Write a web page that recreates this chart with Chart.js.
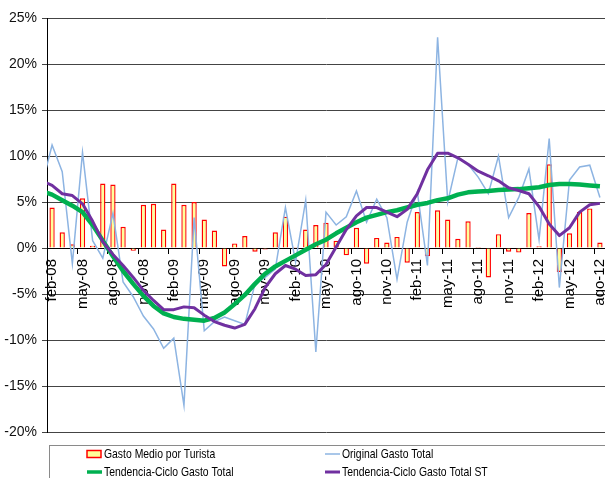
<!DOCTYPE html>
<html>
<head>
<meta charset="utf-8">
<script src="https://cdn.jsdelivr.net/npm/chart.js@4/dist/chart.umd.min.js"></script>
<style>
  html, body { margin: 0; padding: 0; background: #fff; }
  #wrap { width: 605px; height: 478px; }
</style>
</head>
<body>
<div id="wrap"><canvas id="chart" width="605" height="478"></canvas></div>
<script>
// monthly labels; ene-08 lies just left of the visible range (only its line segments show)
const months = [
  "ene-08","feb-08","mar-08","abr-08","may-08","jun-08","jul-08","ago-08","sep-08","oct-08","nov-08","dic-08",
  "ene-09","feb-09","mar-09","abr-09","may-09","jun-09","jul-09","ago-09","sep-09","oct-09","nov-09","dic-09",
  "ene-10","feb-10","mar-10","abr-10","may-10","jun-10","jul-10","ago-10","sep-10","oct-10","nov-10","dic-10",
  "ene-11","feb-11","mar-11","abr-11","may-11","jun-11","jul-11","ago-11","sep-11","oct-11","nov-11","dic-11",
  "ene-12","feb-12","mar-12","abr-12","may-12","jun-12","jul-12","ago-12"
];

const gastoMedio = [
  null,
  4.4, 1.7, 0.4, 5.4, 0.25, 7.0, 6.9, 2.3, -0.3, 4.7, 4.8,
  2.0, 7.0, 4.7, 5.0, 3.1, 1.9, -2.0, 0.5, 1.3, -0.4, -0.15, 1.7,
  3.4, 0.1, 2.0, 2.5, 2.75, 0.8, -0.8, 2.2, -1.7, 1.1, 0.6, 1.2,
  -1.6, 3.9, -0.9, 4.1, 3.1, 1.0, 2.9, 0.1, -3.2, 1.5, -0.4, -0.5,
  3.8, 0.2, 9.1, -2.6, 1.6, 3.9, 4.3, 0.6
];

const originalTotal = [
  6.8,
  11.2, 8.3, -1.7, 10.4, 0.8, -1.1, 3.8, -3.7, -5.3, -7.4, -8.8,
  -10.9, -9.8, -17.1, 3.3, -9.0, -8.0, -7.5, -7.9, -8.3, -3.9, -3.2, -2.3,
  4.4, -1.5, 5.2, -11.3, 3.9, 2.5, 3.4, 6.2, 2.8, 5.3, 3.3, -3.4,
  2.8, 6.1, -1.9, 22.9, 5.0, 9.8, 9.1, 7.7, 5.9, 10.0, 3.3, 5.5,
  8.6, 0.9, 11.9, -4.3, 7.4, 8.8, 9.0, 5.5
];

const tendencia = [
  6.2,
  5.8, 5.2, 4.6, 3.9, 2.5, 0.8, -0.9, -2.5, -3.9, -5.2, -6.3,
  -7.1, -7.5, -7.7, -7.8, -7.9, -7.6, -7.0, -6.1, -5.1, -3.9, -2.8, -2.0,
  -1.4, -0.8, -0.2, 0.4, 0.9, 1.6, 2.2, 2.8, 3.3, 3.6, 3.9, 4.1,
  4.4, 4.7, 4.9, 5.2, 5.4, 5.8, 6.05, 6.15, 6.2, 6.3, 6.35, 6.4,
  6.5, 6.6, 6.85, 6.95, 6.95, 6.9, 6.8, 6.7
];

const tendenciaST = [
  7.3,
  6.8, 5.9, 5.7, 4.8, 2.9, 0.7, -0.7, -1.9, -3.2, -4.6, -5.7,
  -6.7, -6.7, -6.4, -6.5, -7.3, -8.0, -8.4, -8.7, -8.3, -6.6, -4.3, -2.8,
  -1.9, -2.3, -3.0, -2.9, -1.8, 0.1, 2.0, 3.5, 4.4, 4.4, 3.9, 3.4,
  4.2, 5.9, 8.5, 10.3, 10.3, 9.8, 9.1, 8.35, 7.85, 7.3, 6.55, 6.25,
  5.9, 4.5, 2.6, 1.35, 2.2, 3.9, 4.7, 4.85
];

const yTicks = { min: -20, max: 25, step: 5 };

// legend drawn by hand: 2 columns x 2 rows inside a grey box
const legendBox = {
  id: "legendBox",
  afterDraw(chart) {
    const c = chart.ctx;
    const ds = chart.data.datasets;
    const slots = [
      { d: ds[3], x: 87, y: 454 },
      { d: ds[2], x: 325, y: 454 },
      { d: ds[1], x: 87, y: 472 },
      { d: ds[0], x: 325, y: 472 }
    ];
    c.save();
    c.strokeStyle = "#8a8a8a";
    c.lineWidth = 1;
    c.strokeRect(49.5, 445.5, 620, 40);
    c.font = "13px 'Liberation Sans', Arial, sans-serif";
    c.textBaseline = "middle";
    slots.forEach(s => {
      if (s.d.type === "line") {
        c.strokeStyle = s.d.borderColor;
        c.lineWidth = Math.min(s.d.borderWidth, 3.5);
        c.beginPath();
        c.moveTo(s.x, s.y);
        c.lineTo(s.x + 15, s.y);
        c.stroke();
      } else {
        c.fillStyle = s.d.backgroundColor;
        c.fillRect(s.x, s.y - 3.5, 14, 7);
        c.strokeStyle = s.d.borderColor;
        c.lineWidth = 1.5;
        c.strokeRect(s.x, s.y - 3.5, 14, 7);
      }
      c.save();
      c.translate(s.x + 17, s.y + 0.5);
      c.scale(0.8, 1);
      c.fillStyle = "#000";
      c.fillText(s.d.label, 0, 0);
      c.restore();
    });
    c.restore();
  }
};

new Chart(document.getElementById("chart"), {
  type: "bar",
  data: {
    labels: months,
    datasets: [
      {
        type: "line",
        label: "Tendencia-Ciclo Gasto Total ST",
        data: tendenciaST,
        borderColor: "#7030A0",
        borderWidth: 3,
        pointRadius: 0,
        tension: 0,
        borderJoinStyle: "round",
        order: 0
      },
      {
        type: "line",
        label: "Tendencia-Ciclo Gasto Total",
        data: tendencia,
        borderColor: "#00B050",
        borderWidth: 4.5,
        pointRadius: 0,
        tension: 0,
        borderJoinStyle: "round",
        order: 1
      },
      {
        type: "line",
        label: "Original Gasto Total",
        data: originalTotal,
        borderColor: "#8DB4E2",
        borderWidth: 1.5,
        pointRadius: 0,
        tension: 0,
        order: 2
      },
      {
        label: "Gasto Medio por Turista",
        data: gastoMedio,
        backgroundColor: "#FFFF99",
        borderColor: "#FF0000",
        borderWidth: 1.4,
        categoryPercentage: 1,
        barPercentage: 0.52,
        order: 3
      }
    ]
  },
  options: {
    responsive: false,
    animation: false,
    layout: { padding: { top: 18, bottom: 46, left: 0, right: 0 } },
    plugins: { legend: { display: false }, tooltip: { enabled: false } },
    scales: {
      x: {
        type: "category",
        min: "feb-08",
        offset: true,
        position: { y: 0 },
        afterFit(scale) {
          scale.height = 0;
          scale.paddingLeft = 0;
          scale.paddingRight = 0;
        },
        grid: {
          drawOnChartArea: false,
          offset: true,
          tickLength: 5,
          color: ctx => (ctx.index % 3 === 0 ? "#000" : "rgba(0,0,0,0)")
        },
        border: { color: "#000", width: 1 },
        ticks: {
          autoSkip: false,
          minRotation: 90,
          maxRotation: 90,
          padding: 6,
          color: "#000",
          font: { family: "'Liberation Sans', Arial, sans-serif", size: 15 },
          callback(value, index) {
            return index % 3 === 0 ? this.getLabelForValue(value) : "";
          }
        }
      },
      y: {
        min: yTicks.min,
        max: yTicks.max,
        afterFit(scale) { scale.width = 47; },
        grid: { color: "#444", tickLength: 5 },
        border: { color: "#000", width: 1 },
        ticks: {
          stepSize: yTicks.step,
          padding: 5,
          color: "#111",
          font: { family: "'Liberation Sans Narrow', 'Liberation Sans', Arial, sans-serif", size: 14 },
          callback: v => v + "%"
        }
      }
    }
  },
  plugins: [legendBox]
});
</script>
</body>
</html>
